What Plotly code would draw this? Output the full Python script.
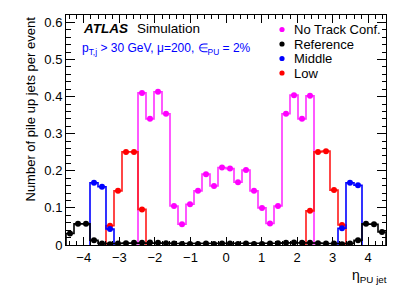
import plotly.graph_objects as go

# ---------------- data ----------------
ETA_MIN, ETA_MAX, N_BINS = -4.5, 4.5, 40

no_track_conf = [None, None, None, None, None, None, None, None, None,
                 0.410, 0.340, 0.413, 0.354, 0.105, 0.056, 0.110, 0.146, 0.191, 0.159, 0.209,
                 0.206, 0.169, 0.202, 0.146, 0.100, 0.058, 0.105, 0.354, 0.404, 0.340, 0.402,
                 None, None, None, None, None, None, None, None, None]

reference = [0.031, 0.057, 0.057, 0.013, 0.004, 0.002, 0.004, 0.005, 0.006, 0.006,
             0.007, 0.006, 0.005, 0.004, 0.003, 0.003, 0.003, 0.004, 0.003, 0.004,
             0.004, 0.003, 0.004, 0.003, 0.003, 0.004, 0.005, 0.006, 0.007, 0.006,
             0.006, 0.005, 0.004, 0.004, 0.002, 0.004, 0.013, 0.057, 0.056, 0.035]

middle = [None, None, None, 0.168, 0.157, 0.043, None, None, None, None,
          None, None, None, None, None, None, None, None, None, None,
          None, None, None, None, None, None, None, None, None, None,
          None, None, None, None, 0.045, 0.168, 0.161, None, None, None]

low = [None, None, None, None, None, 0.052, 0.146, 0.251, 0.251, 0.096,
       None, None, None, None, None, None, None, None, None, None,
       None, None, None, None, None, None, None, None, None, None,
       0.092, 0.251, 0.253, 0.148, 0.054, None, None, None, None, None]

series = [  # drawing order (last on top): name, values, marker colour, line colour
    ("No Track Conf.", no_track_conf, "#ff00ff", "#ff30ff"),
    ("Low", low, "#ff0000", "#ff1a1a"),
    ("Middle", middle, "#0000ff", "#0000ff"),
    ("Reference", reference, "#000000", "#000000"),
]
legend_order = ["No Track Conf.", "Reference", "Middle", "Low"]

x_ticks = [-4, -3, -2, -1, 0, 1, 2, 3, 4]
y_ticks = [0, 0.1, 0.2, 0.3, 0.4, 0.5, 0.6]

# ---------------- helpers ----------------
bin_w = (ETA_MAX - ETA_MIN) / N_BINS
edges = [ETA_MIN + k * bin_w for k in range(N_BINS + 1)]
centers = [0.5 * (edges[k] + edges[k + 1]) for k in range(N_BINS)]


def step_path(vals):
    xs, ys = [], []
    i = 0
    while i < N_BINS:
        if vals[i] is None:
            i += 1
            continue
        j = i
        xs.append(edges[i]); ys.append(0)
        while j < N_BINS and vals[j] is not None:
            xs += [edges[j], edges[j + 1]]
            ys += [vals[j], vals[j]]
            j += 1
        xs.append(edges[j]); ys.append(0)
        xs.append(None); ys.append(None)
        i = j
    return xs, ys


FONT = "Liberation Sans, Arial, Helvetica, sans-serif"
fig = go.Figure()

for name, vals, mcol, lcol in series:
    sx, sy = step_path(vals)
    fig.add_trace(go.Scatter(x=sx, y=sy, mode="lines", line=dict(color=lcol, width=1.6),
                             showlegend=False, hoverinfo="skip"))
    px = [c for c, v in zip(centers, vals) if v is not None]
    py = [v for v in vals if v is not None]
    fig.add_trace(go.Scatter(x=px, y=py, mode="markers", name=name,
                             marker=dict(color=mcol, size=6), showlegend=False))

W, H = 407, 293
ML, MR, MT, MB = 66, 21, 15, 48
pw, ph = W - ML - MR, H - MT - MB


def pxx(p):
    return (p - ML) / pw


def pxy(p):
    return (H - MB - p) / ph


annotations = []
shapes = []
colors = {n: c for n, _, c, _ in series}
row_y = [29.5, 44.0, 58.5, 73.0]
for name, yy in zip(legend_order, row_y):
    shapes.append(dict(type="circle", xref="paper", yref="paper", xsizemode="pixel", ysizemode="pixel",
                       xanchor=pxx(282), yanchor=pxy(yy), x0=-2.6, x1=2.6, y0=-2.6, y1=2.6,
                       fillcolor=colors[name], line=dict(width=0)))
    annotations.append(dict(text=name, x=pxx(292), y=pxy(yy), xref="paper", yref="paper",
                            xanchor="left", yanchor="middle", showarrow=False,
                            font=dict(family=FONT, size=13, color="black")))

annotations += [
    dict(text="<b><i>ATLAS</i></b>", x=pxx(81), y=pxy(28.5), xref="paper", yref="paper",
         xanchor="left", yanchor="middle", showarrow=False, font=dict(family=FONT, size=13.5, color="black")),
    dict(text="Simulation", x=pxx(134.5), y=pxy(28.5), xref="paper", yref="paper",
         xanchor="left", yanchor="middle", showarrow=False, font=dict(family=FONT, size=13.5, color="black")),
    dict(text="p<sub>T,j</sub> > 30 GeV, μ=200, ∈<sub>PU</sub> = 2%", x=pxx(80), y=pxy(49),
         xref="paper", yref="paper", xanchor="left", yanchor="middle", showarrow=False,
         font=dict(family=FONT, size=12, color="#0000ff")),
    dict(text="Number of pile up jets per event", textangle=-90, x=pxx(30), y=1.0,
         xref="paper", yref="paper", xanchor="center", yanchor="top", showarrow=False,
         font=dict(family=FONT, size=13, color="black")),
    dict(text="η<sub>PU jet</sub>", x=pxx(389), y=pxy(265), xref="paper", yref="paper",
         xanchor="right", yanchor="top", showarrow=False, font=dict(family=FONT, size=14, color="black")),
]

fig.update_layout(
    width=W, height=H, margin=dict(l=ML, r=MR, t=MT, b=MB, pad=0),
    paper_bgcolor="white", plot_bgcolor="white", showlegend=False,
    font=dict(family=FONT, size=13, color="black"),
    annotations=annotations, shapes=shapes,
    xaxis=dict(range=[ETA_MIN, ETA_MAX], tickvals=x_ticks, ticktext=[("−" if t < 0 else "") + str(abs(t)) for t in x_ticks],
               ticks="inside", ticklen=8, tickwidth=1, tickcolor="black",
               minor=dict(dtick=0.2, tick0=0, ticks="inside", ticklen=4, tickcolor="black", tickwidth=1),
               showline=True, linecolor="black", linewidth=1, mirror="ticks",
               showgrid=False, zeroline=False, tickfont=dict(family=FONT, size=13)),
    yaxis=dict(range=[0, 0.62], tickvals=y_ticks, ticktext=[("%g" % t) for t in y_ticks],
               ticks="inside", ticklen=9, tickwidth=1, tickcolor="black",
               minor=dict(dtick=0.02, tick0=0, ticks="inside", ticklen=4.5, tickcolor="black", tickwidth=1),
               showline=True, linecolor="black", linewidth=1, mirror="ticks",
               showgrid=False, zeroline=False, tickfont=dict(family=FONT, size=13)),
)

fig.write_html("out.html", config={"displayModeBar": False, "staticPlot": True},
               post_script="document.body.style.margin='0';document.body.style.overflow='hidden';")
